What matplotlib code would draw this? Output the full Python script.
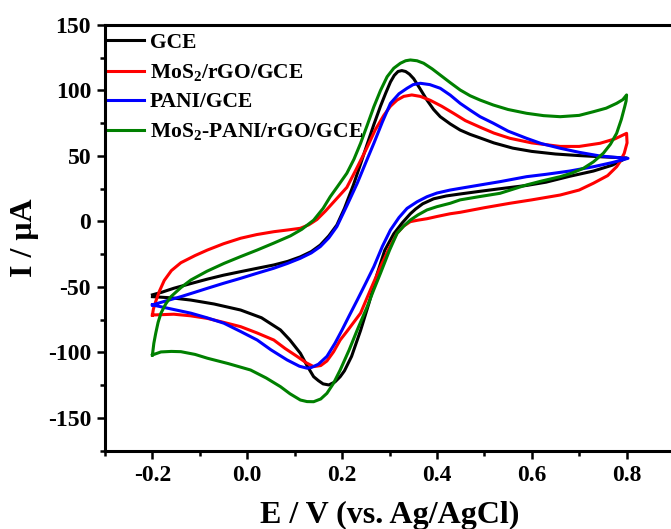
import matplotlib
matplotlib.use("Agg")
import matplotlib.pyplot as plt
from matplotlib.ticker import MultipleLocator

plt.rcParams['font.family'] = ['Liberation Serif', 'DejaVu Serif']
plt.rcParams['font.weight'] = 'bold'
plt.rcParams['mathtext.default'] = 'regular'

# ---- data (E in V, I in uA), forward scan then reverse scan ----
gce_E = [-0.2, -0.18, -0.155, -0.12, -0.084, -0.05, -0.014, 0.02, 0.056, 0.085, 0.112, 0.135, 0.154, 0.172,
         0.189, 0.205, 0.224, 0.24, 0.252, 0.267, 0.281, 0.292, 0.302, 0.31, 0.318, 0.326, 0.334, 0.342, 0.351,
         0.365, 0.379, 0.393, 0.407, 0.428, 0.449, 0.47, 0.491, 0.52, 0.56, 0.6, 0.65, 0.7, 0.75, 0.8,
         0.77, 0.73, 0.68, 0.63, 0.589, 0.533, 0.49, 0.449, 0.42, 0.393, 0.37, 0.355, 0.344, 0.327, 0.309,
         0.29, 0.274, 0.257, 0.239, 0.22, 0.205, 0.196, 0.185, 0.172, 0.16, 0.15, 0.14, 0.126, 0.112, 0.09,
         0.07, 0.03, -0.014, -0.07, -0.119, -0.16, -0.2]
gce_I = [-56, -54, -51, -47.5, -44, -41, -38.3, -35.8, -33.2, -30.5, -27, -23, -18, -11,
         -2.7, 10, 28, 45, 58, 74, 88, 98, 106.5, 111.5, 114.5, 115.2, 114.5, 112.5, 109,
         101, 92.7, 85.5, 80, 74.5, 69.8, 66.5, 63.8, 60, 56, 53.5, 51.5, 50.3, 49.3, 48.5,
         43, 38.5, 34.5, 30, 27.5, 25, 23, 21, 19.5, 17.3, 13.5, 9.5, 5.9, -1, -9.4,
         -22, -40, -62, -83.2, -103, -114, -118.5, -122.5, -124.8, -124, -121.5, -118.5, -110, -100.6, -90.5,
         -82.8, -73.5, -67.6, -63, -60, -58.3, -57.4]

mos2_E = [-0.2, -0.198, -0.193, -0.185, -0.175, -0.16, -0.14, -0.11, -0.084, -0.05, -0.014, 0.02, 0.056, 0.085,
          0.112, 0.13, 0.147, 0.165, 0.185, 0.21, 0.23, 0.252, 0.27, 0.288, 0.302, 0.316, 0.33, 0.347, 0.365,
          0.386, 0.41, 0.435, 0.46, 0.491, 0.52, 0.554, 0.6, 0.66, 0.7, 0.744, 0.775, 0.8,
          0.801, 0.795, 0.785, 0.779, 0.76, 0.73, 0.7, 0.66, 0.6, 0.554, 0.5, 0.449, 0.428, 0.4, 0.379, 0.36,
          0.344, 0.33, 0.316, 0.3, 0.281, 0.26, 0.239, 0.21, 0.196, 0.182, 0.168, 0.155, 0.14, 0.125, 0.105,
          0.08, 0.056, 0.02, -0.014, -0.05, -0.084, -0.12, -0.155, -0.2]
mos2_I = [-71.4, -67, -61, -53, -45, -37.5, -31.5, -26, -21.8, -17, -12.8, -10, -7.8, -6.5,
          -5.2, -2.5, 1.5, 8, 16, 26, 40, 56, 70, 81, 88, 92.7, 95.5, 96.6, 95.5,
          92.5, 88, 82.6, 77, 72, 67.5, 63.5, 60, 57.3, 57.3, 59.7, 63, 67.3,
          60, 52, 45, 41.8, 35, 29.2, 24, 20.2, 16.5, 13.9, 10.5, 7, 5.9, 3.8, 2.1, 1,
          -0.1, -3.5, -9, -20, -34.5, -52, -70, -84, -90.5, -99.5, -106.5, -110, -110.8, -108, -103,
          -97, -90.5, -85, -80.3, -77, -74, -72, -70.8, -71.4]

pani_E = [-0.2, -0.17, -0.14, -0.11, -0.084, -0.05, -0.014, 0.02, 0.056, 0.085, 0.112, 0.135, 0.154, 0.172,
          0.189, 0.21, 0.232, 0.25, 0.267, 0.285, 0.302, 0.32, 0.337, 0.35, 0.365, 0.385, 0.407, 0.428, 0.449,
          0.47, 0.491, 0.519, 0.55, 0.589, 0.62, 0.66, 0.7, 0.744, 0.775, 0.803,
          0.77, 0.73, 0.68, 0.63, 0.589, 0.533, 0.49, 0.449, 0.428, 0.4, 0.379, 0.358, 0.337, 0.32, 0.302,
          0.285, 0.267, 0.25, 0.232, 0.215, 0.2, 0.185, 0.168, 0.15, 0.135, 0.126, 0.11, 0.084, 0.05, 0.021,
          -0.014, -0.049, -0.085, -0.119, -0.168, -0.2]
pani_I = [-63.7, -60.5, -57.4, -54, -51, -47.2, -43.4, -39.6, -35.7, -32, -28.1, -24, -19.2, -12.5,
          -3.9, 12, 29.2, 45, 59.7, 76, 90.2, 97.5, 101.7, 104.5, 105.5, 104.5, 101.7, 96.5, 90.2,
          85, 80, 75, 69, 63.5, 59.5, 55.9, 52.8, 50, 49, 48.2,
          45, 41.8, 38.5, 36, 34.2, 30.4, 27.8, 25.3, 24, 21.7, 18.9, 15, 10, 3, -6.5,
          -19, -34.5, -47, -60, -72, -82.8, -93, -103, -109, -111.5, -112, -110.5, -105.7, -98, -90.5,
          -84, -77.7, -73.5, -70, -66.2, -63.7]

comp_E = [-0.2, -0.197, -0.193, -0.188, -0.182, -0.172, -0.161, -0.14, -0.119, -0.085, -0.049, -0.014, 0.021,
          0.056, 0.091, 0.115, 0.14, 0.16, 0.175, 0.19, 0.21, 0.225, 0.239, 0.253, 0.267, 0.281, 0.295, 0.309,
          0.323, 0.334, 0.344, 0.358, 0.372, 0.39, 0.407, 0.428, 0.449, 0.47, 0.491, 0.519, 0.55, 0.589, 0.625,
          0.66, 0.7, 0.73, 0.757, 0.779, 0.792, 0.8,
          0.799, 0.796, 0.789, 0.779, 0.766, 0.751, 0.73, 0.709, 0.685, 0.66, 0.62, 0.589, 0.533, 0.49, 0.449,
          0.428, 0.4, 0.379, 0.36, 0.344, 0.33, 0.316, 0.3, 0.281, 0.267, 0.253, 0.232, 0.215, 0.196, 0.182,
          0.168, 0.155, 0.14, 0.126, 0.112, 0.09, 0.07, 0.04, 0.007, -0.04, -0.084, -0.11, -0.14, -0.16, -0.182,
          -0.2]
comp_I = [-101.9, -93, -85.3, -77, -70, -63, -57.4, -50.5, -44.7, -38, -32, -26.8, -21.8,
          -16.5, -11, -6, 1, 10, 18.9, 26.5, 36.8, 47.5, 59.7, 73.5, 87.6, 100, 110.5, 117,
          120.8, 122.7, 123.3, 122.7, 120.8, 116.5, 111.8, 106, 100.4, 96, 92.7, 88.9, 85.5, 82.6, 80.8,
          80, 81, 83.8, 86.5, 90.2, 93, 96.6,
          92, 87.6, 78, 67.3, 59, 52.1, 45.5, 40.6, 37, 34.2, 30.8, 27.9, 21.5, 19, 16.5,
          13.9, 11.3, 8.8, 5, 1.1, -3.5, -9, -22, -39.5, -52, -65, -82.8, -98, -113.4, -123.5,
          -131.2, -135.5, -137.6, -137.5, -136.3, -131.5, -126.1, -119.5, -113.4, -108.5, -104.4, -101.5, -99.4,
          -99.2, -99.6, -101.9]

labels = ['GCE', r'MoS$_2$/rGO/GCE', 'PANI/GCE', r'MoS$_2$-PANI/rGO/GCE']
colors = ['black', 'red', 'blue', 'green']

fig = plt.figure(figsize=(6.71, 5.29), dpi=100)
ax = fig.add_axes([105 / 671, 1 - 450.7 / 529, (674 - 105) / 671, (450.7 - 25) / 529])

for E, I, lab, col in zip([gce_E, mos2_E, pani_E, comp_E], [gce_I, mos2_I, pani_I, comp_I], labels, colors):
    ax.plot(E, I, color=col, lw=2.2, label=lab, solid_joinstyle='round')

ax.set_xlim(-0.3, 0.9)
ax.set_ylim(-175, 150)
ax.xaxis.set_minor_locator(MultipleLocator(0.1))
ax.yaxis.set_minor_locator(MultipleLocator(25))
ax.set_xticks([-0.2, 0.0, 0.2, 0.4, 0.6, 0.8])
ax.set_xticklabels(['-0.2', '0.0', '0.2', '0.4', '0.6', '0.8'])
ax.set_yticks([-150, -100, -50, 0, 50, 100, 150])
ax.set_yticklabels(['-150', '-100', '-50', '0', '50', '100', '150'])

for s in ax.spines.values():
    s.set_linewidth(2.2)
ax.tick_params(which='major', direction='out', length=6, width=1.8, labelsize=17, pad=4)
ax.tick_params(which='minor', direction='out', length=3.5, width=1.8)
for t in ax.get_xticklabels() + ax.get_yticklabels():
    t.set_fontweight('bold')

ax.set_xlabel('E / V (vs. Ag/AgCl)', fontsize=23, fontweight='bold', labelpad=11)
ax.set_ylabel('I / μA', fontsize=23, fontweight='bold', labelpad=6)

leg = ax.legend(loc='upper left', bbox_to_anchor=(-0.009, 1.0), frameon=False, handlelength=1.7,
                handletextpad=0.25, labelspacing=0.42, borderaxespad=0.22, borderpad=0.15,
                prop={'weight': 'bold', 'size': 15.5})

fig.savefig('out.png', dpi=100)
